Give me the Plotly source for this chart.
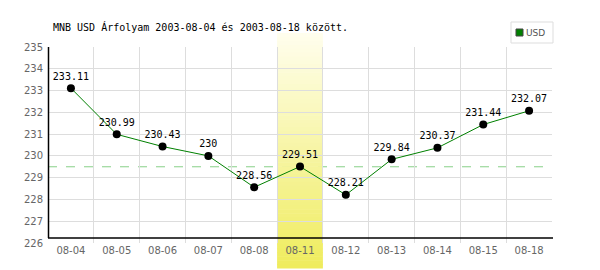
import plotly.graph_objects as go

categories = ["08-04", "08-05", "08-06", "08-07", "08-08", "08-11",
              "08-12", "08-13", "08-14", "08-15", "08-18"]
usd_values = [233.11, 230.99, 230.43, 230.00, 228.56, 229.51,
              228.21, 229.84, 230.37, 231.44, 232.07]
value_labels = ["233.11", "230.99", "230.43", "230", "228.56", "229.51",
                "228.21", "229.84", "230.37", "231.44", "232.07"]
reference_level = 229.5
highlight_index = 5
y_ticks = list(range(226, 236))

W, H = 600, 270
L, R, T, B = 48, 48, 47, 27
PW, PH = W - L - R, H - T - B

def px_x(p):
    return (p - L) / PW

def px_y(p):
    return (H - B - p) / PH

fig = go.Figure()

fig.add_trace(go.Scatter(
    x=categories, y=usd_values, mode="lines+markers+text",
    text=value_labels, textposition="top center",
    textfont=dict(family="DejaVu Sans Mono", size=10, color="#000000"),
    line=dict(color="#008000", width=1),
    marker=dict(color="#000000", size=8),
    showlegend=False, cliponaxis=False,
))

shapes = []
# dashed reference line (under band)
shapes.append(dict(type="line", xref="paper", yref="y", x0=0, x1=1,
                   y0=reference_level, y1=reference_level,
                   line=dict(color="#88d088", width=1, dash="dash"),
                   layer="between"))

# gradient highlight band
top_px, bot_px = 33, 268
n = 60
c0 = (255, 254, 238)
c1 = (239, 236, 92)
for i in range(n):
    f = (i + 0.5) / n
    col = tuple(int(round(c0[k] + (c1[k] - c0[k]) * f)) for k in range(3))
    ya = top_px + (bot_px - top_px) * i / n
    yb = top_px + (bot_px - top_px) * (i + 1) / n + 0.6
    shapes.append(dict(type="rect", xref="x", yref="paper",
                       x0=highlight_index - 0.5, x1=highlight_index + 0.5,
                       y0=px_y(yb), y1=px_y(ya),
                       fillcolor="rgb(%d,%d,%d)" % col, line=dict(width=0),
                       layer="between"))

# black axis lines
shapes.append(dict(type="line", xref="paper", yref="paper",
                   x0=px_x(48.5), x1=px_x(48.5), y0=px_y(238), y1=px_y(47),
                   line=dict(color="#000000", width=1.5), layer="above"))
shapes.append(dict(type="line", xref="paper", yref="paper",
                   x0=px_x(48), x1=px_x(553), y0=px_y(238), y1=px_y(238),
                   line=dict(color="#000000", width=1.5), layer="above"))

# legend box
shapes.append(dict(type="rect", xref="paper", yref="paper",
                   x0=px_x(511), x1=px_x(553), y0=px_y(43), y1=px_y(22),
                   fillcolor="#ffffff", line=dict(color="#dddddd", width=1),
                   layer="above"))
shapes.append(dict(type="rect", xref="paper", yref="paper",
                   x0=px_x(516), x1=px_x(523), y0=px_y(36), y1=px_y(29),
                   fillcolor="#008000", line=dict(color="#444444", width=1),
                   layer="above"))

fig.update_layout(
    width=W, height=H,
    margin=dict(l=L, r=R, t=T, b=B),
    paper_bgcolor="#ffffff", plot_bgcolor="#ffffff",
    shapes=shapes,
    title=dict(text="MNB USD Árfolyam 2003-08-04 és 2003-08-18 között.",
               x=53 / W, xanchor="left", xref="container",
               y=1 - 27 / H, yanchor="middle", yref="container",
               font=dict(family="DejaVu Sans Mono", size=10, color="#000000")),
    annotations=[dict(text="USD", xref="paper", yref="paper",
                      x=px_x(524), y=px_y(33), xanchor="left", yanchor="middle",
                      showarrow=False,
                      font=dict(family="DejaVu Sans", size=9, color="#555555"))],
    xaxis=dict(type="category", range=[-0.5, len(categories) - 0.5],
               tickson="boundaries", showgrid=True, gridcolor="#dddddd",
               gridwidth=1, ticks="", showline=False, zeroline=False,
               tickfont=dict(family="DejaVu Sans", size=10, color="#666666"),
               fixedrange=True),
    yaxis=dict(range=[226, 235], tickvals=y_ticks, showgrid=True,
               gridcolor="#dddddd", gridwidth=1, ticks="", showline=False,
               zeroline=False, ticklabelstandoff=4,
               tickfont=dict(family="DejaVu Sans", size=10, color="#666666"),
               fixedrange=True),
    font=dict(family="DejaVu Sans"),
)

fig.write_html("out.html", config={"displayModeBar": False})
